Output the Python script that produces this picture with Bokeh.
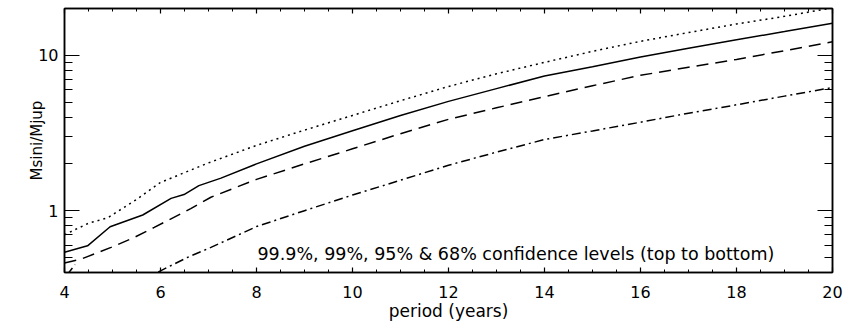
import numpy as np
from bokeh.plotting import figure
from bokeh.models import LinearAxis, LogAxis, FixedTicker, Range1d, Label, CustomJSTickFormatter
from bokeh.embed import file_html
from bokeh.resources import INLINE

nan = float("nan")

# 99.9% confidence level (dotted)
period_999 = [4.0, 4.5, 4.9, 5.5, 6.0, 7.0, 8.0, 9.0, 10, 11, 12, 13, 14, 15, 16, 17, 18, 19, 20]
mass_999 = [0.70, 0.83, 0.90, 1.18, 1.52, 2.03, 2.63, 3.30, 4.1, 5.1, 6.3, 7.6, 9.0, 10.6, 12.3, 14.0, 15.9, 17.8, 20.2]

# 99% confidence level (solid)
period_99 = [4.0, 4.48, 4.95, 5.63, 6.22, 6.49, 6.8, 7.26, 8.0, 9.0, 10, 11, 12, 13, 14, 15, 16, 17, 18, 19, 20]
mass_99 = [0.54, 0.594, 0.788, 0.938, 1.20, 1.27, 1.45, 1.62, 2.0, 2.6, 3.27, 4.1, 5.05, 6.1, 7.35, 8.45, 9.75, 11.1, 12.6, 14.2, 16.1]

# 95% confidence level (dashed)
period_95 = [4.0, 4.34, 4.97, 5.45, 5.87, 6.63, 7.05, 8.0, 9.0, 10, 11, 12, 13, 14, 15, 16, 17, 18, 19, 20]
mass_95 = [0.46, 0.487, 0.58, 0.672, 0.78, 1.03, 1.22, 1.59, 2.0, 2.5, 3.13, 3.87, 4.59, 5.42, 6.37, 7.43, 8.37, 9.4, 10.7, 12.2]

# 68% confidence level (dash-dot)
period_68 = [4.05, 4.22, 4.5, 5.6, 6.0, 6.56, 7.05, 8.0, 9.0, 10, 11, 12, 13, 14, 15, 16, 17, 18, 19, 20]
mass_68 = [0.385, 0.45, nan, 0.355, 0.41, 0.50, 0.58, 0.79, 1.0, 1.26, 1.57, 1.96, 2.38, 2.87, 3.26, 3.71, 4.24, 4.8, 5.46, 6.2]

x_major = [4, 6, 8, 10, 12, 14, 16, 18, 20]
x_minor = [4 + 0.5 * i for i in range(33)]
y_major = [1, 10]
y_minor = [0.4, 0.5, 0.6, 0.7, 0.8, 0.9, 2, 3, 4, 5, 6, 7, 8, 9, 20]

FONT = "DejaVu Sans"

p = figure(width=845, height=325, x_range=Range1d(4, 20), y_range=Range1d(0.4, 20),
           y_axis_type="log", output_backend="svg", toolbar_location=None,
           min_border_left=64, min_border_right=13, min_border_top=8, min_border_bottom=53)
p.grid.visible = False
p.outline_line_color = "black"
p.outline_line_width = 1.5
p.background_fill_color = "white"
p.border_fill_color = "white"

blank = CustomJSTickFormatter(code="return '';")

def style_x(ax, labels=True):
    ax.ticker = FixedTicker(ticks=x_major, minor_ticks=x_minor)
    ax.major_tick_in = 5
    ax.major_tick_out = 0
    ax.minor_tick_in = 3
    ax.minor_tick_out = 0
    ax.axis_line_color = "black"
    ax.axis_line_width = 1.5
    ax.major_tick_line_width = 1.2
    ax.minor_tick_line_width = 1.0
    ax.major_label_text_font = FONT
    ax.major_label_text_color = "black"
    ax.major_label_text_font_size = "16px"
    if labels:
        ax.major_label_standoff = 13
    else:
        ax.formatter = blank
        ax.major_label_standoff = 0

def style_y(ax, labels=True):
    ax.ticker = FixedTicker(ticks=y_major, minor_ticks=y_minor)
    ax.major_tick_in = 15
    ax.major_tick_out = 0
    ax.minor_tick_in = 8
    ax.minor_tick_out = 0
    ax.axis_line_color = "black"
    ax.axis_line_width = 1.5
    ax.major_tick_line_width = 1.2
    ax.minor_tick_line_width = 1.0
    ax.major_label_text_font = FONT
    ax.major_label_text_color = "black"
    ax.major_label_text_font_size = "16px"
    if labels:
        ax.major_label_overrides = {1: "1", 10: "10"}
        ax.major_label_standoff = 6
    else:
        ax.formatter = blank
        ax.major_label_standoff = 0

style_x(p.xaxis[0])
style_y(p.yaxis[0])

p.xaxis[0].axis_label = "period (years)"
p.xaxis[0].axis_label_text_font = FONT
p.xaxis[0].axis_label_text_font_size = "17px"
p.xaxis[0].axis_label_text_font_style = "normal"
p.xaxis[0].axis_label_text_color = "black"
p.xaxis[0].axis_label_standoff = 0

p.yaxis[0].axis_label = "Msini/Mjup"
p.yaxis[0].axis_label_text_font = FONT
p.yaxis[0].axis_label_text_font_size = "15px"
p.yaxis[0].axis_label_text_font_style = "normal"
p.yaxis[0].axis_label_text_color = "black"
p.yaxis[0].axis_label_standoff = -11

top = LinearAxis()
style_x(top, labels=False)
p.add_layout(top, "above")
right = LogAxis()
style_y(right, labels=False)
p.add_layout(right, "right")

p.line(period_999, mass_999, line_color="black", line_width=1.5, line_dash="2 4")
p.line(period_99, mass_99, line_color="black", line_width=1.5)
p.line(period_95, mass_95, line_color="black", line_width=1.5, line_dash="12 7")
p.line(period_68, mass_68, line_color="black", line_width=1.5, line_dash="9 4 2 4")

p.add_layout(Label(x=8.02, y=0.527, text="99.9%, 99%, 95% & 68% confidence levels (top to bottom)",
                   text_font=FONT, text_font_size="17.5px", text_color="black",
                   text_baseline="middle", text_align="left"))

open("out.html", "w").write(file_html(p, INLINE))
